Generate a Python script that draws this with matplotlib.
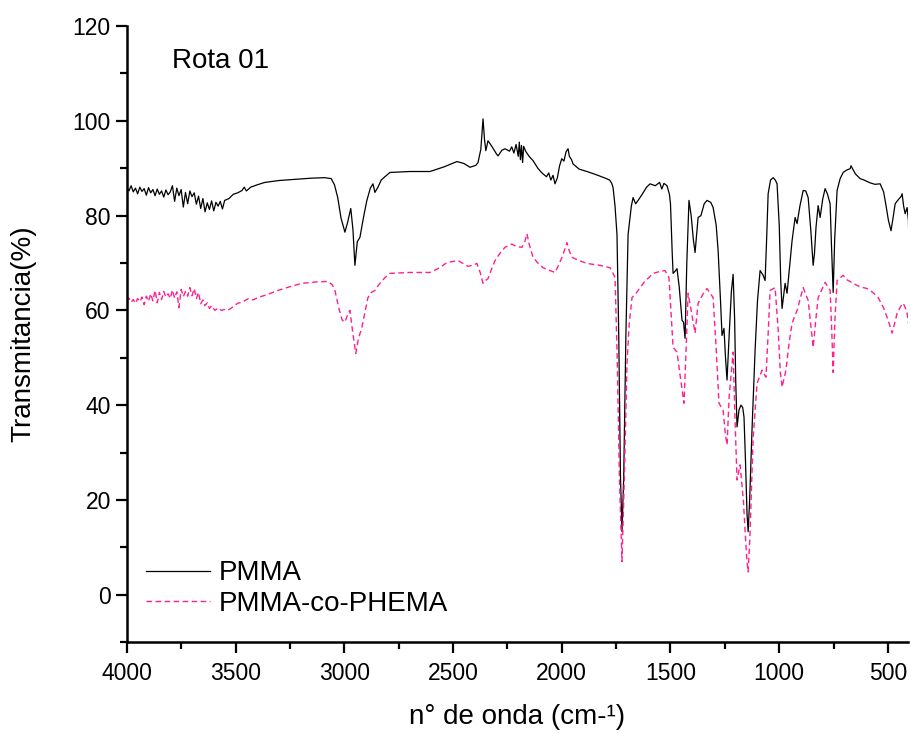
#-*- coding:UTF-8 -*-
import numpy as np
import matplotlib
matplotlib.use('Agg')
import matplotlib.pyplot as plt
from matplotlib.ticker import MultipleLocator

plt.rcParams['font.family'] = ['Liberation Sans', 'DejaVu Sans']

# PMMA
wn_pmma = [4000, 3990, 3980, 3970, 3960, 3950, 3940, 3930, 3920, 3910, 3900, 3890, 3880, 3870, 3860,
           3850, 3840, 3830, 3820, 3810, 3800, 3790, 3780, 3770, 3760, 3750, 3740, 3730, 3720, 3710,
           3700, 3690, 3680, 3670, 3660, 3650, 3640, 3630, 3620, 3610, 3600, 3590, 3580, 3570, 3560,
           3550, 3530, 3510, 3490, 3470, 3460, 3450, 3430, 3400, 3365, 3300, 3240, 3150, 3090, 3060,
           3045, 3030, 3015, 2997, 2985, 2970, 2960, 2951, 2940, 2928, 2910, 2896, 2880, 2868, 2859,
           2845, 2830, 2813, 2790, 2700, 2606, 2540, 2482, 2450, 2422, 2395, 2385, 2372, 2362, 2355,
           2349, 2339, 2320, 2300, 2293, 2275, 2261, 2240, 2230, 2220, 2210, 2200, 2195, 2190, 2185,
           2180, 2175, 2165, 2150, 2132, 2110, 2095, 2086, 2070, 2060, 2050, 2040, 2031, 2020, 2010,
           2000, 1990, 1980, 1971, 1965, 1955, 1948, 1920, 1884, 1840, 1800, 1780, 1770, 1764, 1755,
           1746, 1738, 1730, 1723, 1715, 1705, 1695, 1680, 1672, 1660, 1649, 1630, 1610, 1594, 1570,
           1550, 1540, 1530, 1516, 1505, 1500, 1492, 1488, 1478, 1470, 1460, 1447, 1440, 1433, 1425,
           1415, 1405, 1395, 1387, 1380, 1373, 1360, 1345, 1332, 1315, 1304, 1290, 1281, 1270, 1263,
           1254, 1247, 1240, 1230, 1220, 1212, 1205, 1200, 1194, 1185, 1176, 1168, 1162, 1155, 1148,
           1143, 1136, 1125, 1111, 1100, 1088, 1075, 1065, 1058, 1051, 1040, 1028, 1018, 1010, 1000,
           993, 987, 980, 973, 964, 955, 941, 927, 918, 905, 890, 878, 867, 855, 844,
           838, 831, 821, 812, 800, 789, 778, 766, 760, 752, 745, 734, 720, 706, 690,
           674, 670, 650, 628, 610, 582, 560, 536, 520, 509, 498, 486, 475, 467, 450,
           440, 435, 428, 421, 412, 406, 403]
t_pmma = [86.0, 85.2, 86.3, 85.0, 85.8, 84.6, 86.0, 85.1, 85.7, 84.3, 85.9, 84.8, 85.5, 84.2, 85.6,
          84.5, 85.2, 83.9, 85.4, 84.4, 85.0, 86.3, 83.0, 85.8, 84.2, 85.5, 81.8, 84.9, 82.5, 85.2,
          84.0, 84.8, 82.4, 84.1, 81.5, 83.6, 80.8, 82.7, 81.3, 83.1, 81.0, 82.8, 82.0, 83.0, 81.4,
          83.2, 83.6, 84.5, 84.8, 85.3, 86.0, 85.2, 86.0, 86.5, 87.0, 87.4, 87.6, 87.9, 88.0, 87.8,
          86.5, 83.8, 79.5, 76.5, 78.5, 81.5, 77.0, 69.5, 74.5, 75.4, 80.0, 83.2, 85.8, 86.7, 84.9,
          86.0, 87.5, 88.2, 89.1, 89.3, 89.3, 90.3, 91.4, 91.0, 90.2, 90.6, 91.2, 94.0, 100.4, 96.0,
          93.7, 95.8, 94.5, 93.0, 92.6, 93.8, 94.1, 93.6, 94.5, 93.2, 95.0, 92.5, 95.5, 91.8, 94.8,
          91.2, 94.6, 93.5, 92.5, 91.6, 90.0, 89.2, 88.8, 88.2, 89.0, 87.5, 88.5, 86.7, 88.0, 90.5,
          92.0, 91.5, 93.5, 94.1, 92.5, 91.8, 90.9, 89.8, 89.3, 88.6, 87.9, 87.5, 86.8, 85.9, 82.0,
          76.0, 55.0, 25.0, 13.3, 25.0, 55.0, 76.0, 82.0, 83.8, 82.5, 83.2, 84.5, 86.0, 86.7, 86.3,
          87.0, 85.6, 86.8, 86.3, 84.5, 82.5, 72.0, 67.8, 68.3, 68.8, 65.0, 57.9, 57.5, 54.1, 70.0,
          83.2, 80.0, 75.0, 72.2, 76.0, 79.6, 80.0, 82.5, 83.2, 82.8, 81.7, 78.0, 72.6, 62.0, 54.7,
          56.2, 50.0, 45.3, 55.0, 64.0, 67.6, 58.0, 45.0, 35.4, 39.0, 40.0, 39.5, 37.5, 28.0, 17.0,
          13.3, 20.0, 35.0, 51.6, 62.0, 68.4, 67.5, 66.3, 75.0, 84.6, 87.5, 88.0, 87.5, 86.7, 78.0,
          66.0, 60.4, 63.0, 65.7, 63.6, 68.0, 74.7, 79.6, 78.3, 82.0, 85.3, 85.2, 83.8, 77.0, 69.5,
          72.0, 77.5, 82.1, 79.6, 83.5, 85.7, 84.5, 82.5, 74.0, 63.8, 75.0, 85.3, 87.8, 89.1, 89.6,
          89.9, 90.5, 88.8, 87.8, 87.5, 86.9, 86.6, 86.7, 85.0, 82.1, 79.0, 76.8, 80.0, 82.5, 83.5,
          84.0, 84.6, 82.0, 80.4, 81.7, 79.0, 73.3]

# PMMA-co-PHEMA
wn_phema = [4000, 3990, 3980, 3970, 3960, 3950, 3940, 3930, 3920, 3910, 3900, 3890, 3880, 3870, 3860,
            3850, 3840, 3830, 3820, 3810, 3800, 3790, 3780, 3770, 3760, 3750, 3740, 3730, 3720, 3710,
            3700, 3690, 3680, 3670, 3660, 3650, 3641, 3630, 3620, 3610, 3595, 3580, 3565, 3550, 3535,
            3510, 3490, 3471, 3440, 3420, 3397, 3350, 3305, 3250, 3195, 3130, 3075, 3055, 3043, 3025,
            3010, 2997, 2985, 2974, 2960, 2947, 2935, 2919, 2905, 2891, 2875, 2859, 2840, 2813, 2790,
            2700, 2606, 2560, 2528, 2477, 2450, 2431, 2410, 2390, 2375, 2362, 2350, 2339, 2320, 2307,
            2285, 2261, 2230, 2210, 2183, 2170, 2160, 2150, 2132, 2110, 2086, 2060, 2031, 2015, 1999,
            1985, 1976, 1965, 1953, 1920, 1884, 1824, 1778, 1764, 1755, 1745, 1735, 1723, 1712, 1700,
            1690, 1677, 1660, 1649, 1620, 1580, 1550, 1525, 1507, 1498, 1488, 1470, 1455, 1438, 1428,
            1419, 1405, 1387, 1373, 1350, 1332, 1304, 1290, 1277, 1258, 1248, 1240, 1230, 1212, 1204,
            1194, 1180, 1165, 1150, 1143, 1135, 1120, 1102, 1079, 1061, 1050, 1042, 1019, 1005, 995,
            987, 969, 955, 941, 918, 890, 867, 855, 844, 832, 821, 789, 766, 758, 752,
            744, 734, 706, 690, 660, 630, 596, 570, 545, 520, 499, 481, 468, 458, 442,
            430, 420, 412, 403]
t_phema = [62.0, 62.6, 61.7, 62.3, 61.5, 62.5, 61.8, 62.8, 61.2, 63.0, 61.9, 63.5, 62.0, 64.2, 61.6,
           63.8, 62.3, 64.0, 62.8, 63.5, 62.5, 64.3, 62.6, 63.9, 60.6, 64.4, 62.9, 64.0, 63.0, 64.8,
           63.1, 64.6, 62.5, 63.8, 61.4, 62.2, 61.0, 61.6, 60.4, 61.0, 60.0, 60.5, 60.0, 60.2, 60.0,
           60.8, 61.5, 61.7, 62.5, 62.2, 62.7, 63.4, 64.2, 65.0, 65.7, 66.0, 66.1, 65.4, 64.2, 60.5,
           58.0, 57.5, 59.0, 60.0, 55.0, 50.9, 54.0, 56.4, 59.5, 62.7, 63.8, 64.2, 65.5, 66.9, 67.8,
           68.0, 68.0, 69.0, 70.1, 70.5, 69.8, 69.3, 69.5, 69.9, 68.0, 65.7, 66.3, 66.7, 69.0, 70.5,
           72.0, 73.3, 74.0, 73.5, 73.3, 74.5, 76.2, 74.0, 71.2, 70.0, 69.0, 68.5, 68.0, 69.5, 71.2,
           73.0, 74.3, 72.5, 71.2, 70.5, 69.9, 69.5, 69.0, 67.8, 66.9, 50.0, 25.0, 7.0, 25.0, 48.8,
           57.0, 62.7, 63.5, 64.2, 66.0, 67.8, 68.2, 68.4, 66.9, 60.0, 52.2, 51.2, 46.0, 40.4, 52.0,
           63.6, 60.0, 55.2, 61.5, 63.5, 64.6, 62.7, 52.0, 40.4, 38.9, 34.0, 31.6, 42.0, 51.2, 38.0,
           24.2, 27.4, 20.0, 8.0, 4.8, 12.0, 33.0, 44.6, 47.4, 45.9, 56.0, 64.2, 64.8, 56.0, 47.0,
           43.8, 47.4, 53.0, 57.3, 60.0, 64.8, 62.1, 57.0, 52.2, 58.0, 62.7, 65.9, 64.2, 55.0, 46.9,
           58.0, 66.3, 67.4, 66.5, 65.7, 65.0, 64.6, 63.8, 62.7, 60.5, 57.9, 55.2, 57.5, 59.4, 60.8,
           61.5, 60.5, 59.4, 56.4]

fig = plt.figure(figsize=(9.12, 7.33), dpi=100)
ax = fig.add_axes([0.139, 0.124, 0.8566, 0.8405])

ax.plot(wn_pmma, t_pmma, color='black', linewidth=0.9, label='PMMA')
ax.plot(wn_phema, t_phema, color='#ff1f8f', linewidth=1.0, linestyle=(0, (4, 2.5)),
        label='PMMA-co-PHEMA')

ax.set_xlim(4000, 408)
ax.set_ylim(-10, 120)
ax.xaxis.set_major_locator(MultipleLocator(500))
ax.xaxis.set_minor_locator(MultipleLocator(250))
ax.yaxis.set_major_locator(MultipleLocator(20))
ax.yaxis.set_minor_locator(MultipleLocator(10))

for s in ['top', 'right']:
    ax.spines[s].set_visible(False)
for s in ['left', 'bottom']:
    ax.spines[s].set_linewidth(1.8)
ax.tick_params(which='major', direction='out', length=8, width=1.6, labelsize=16.5)
ax.tick_params(axis='x', which='major', pad=6)
ax.tick_params(which='minor', direction='out', length=5, width=1.6)

ax.set_xlabel('n° de onda (cm-¹)', fontsize=20, labelpad=14)
ax.set_ylabel('Transmitancia(%)', fontsize=20, labelpad=26)
ax.text(0.058, 0.965, 'Rota 01', transform=ax.transAxes, fontsize=20, va='top', ha='left')

leg = ax.legend(loc='lower left', bbox_to_anchor=(0.0, 0.01), frameon=False, fontsize=20,
                handlelength=2.3, handletextpad=0.3, labelspacing=0.15, borderaxespad=0.3)

plt.savefig('out.png', dpi=100)
